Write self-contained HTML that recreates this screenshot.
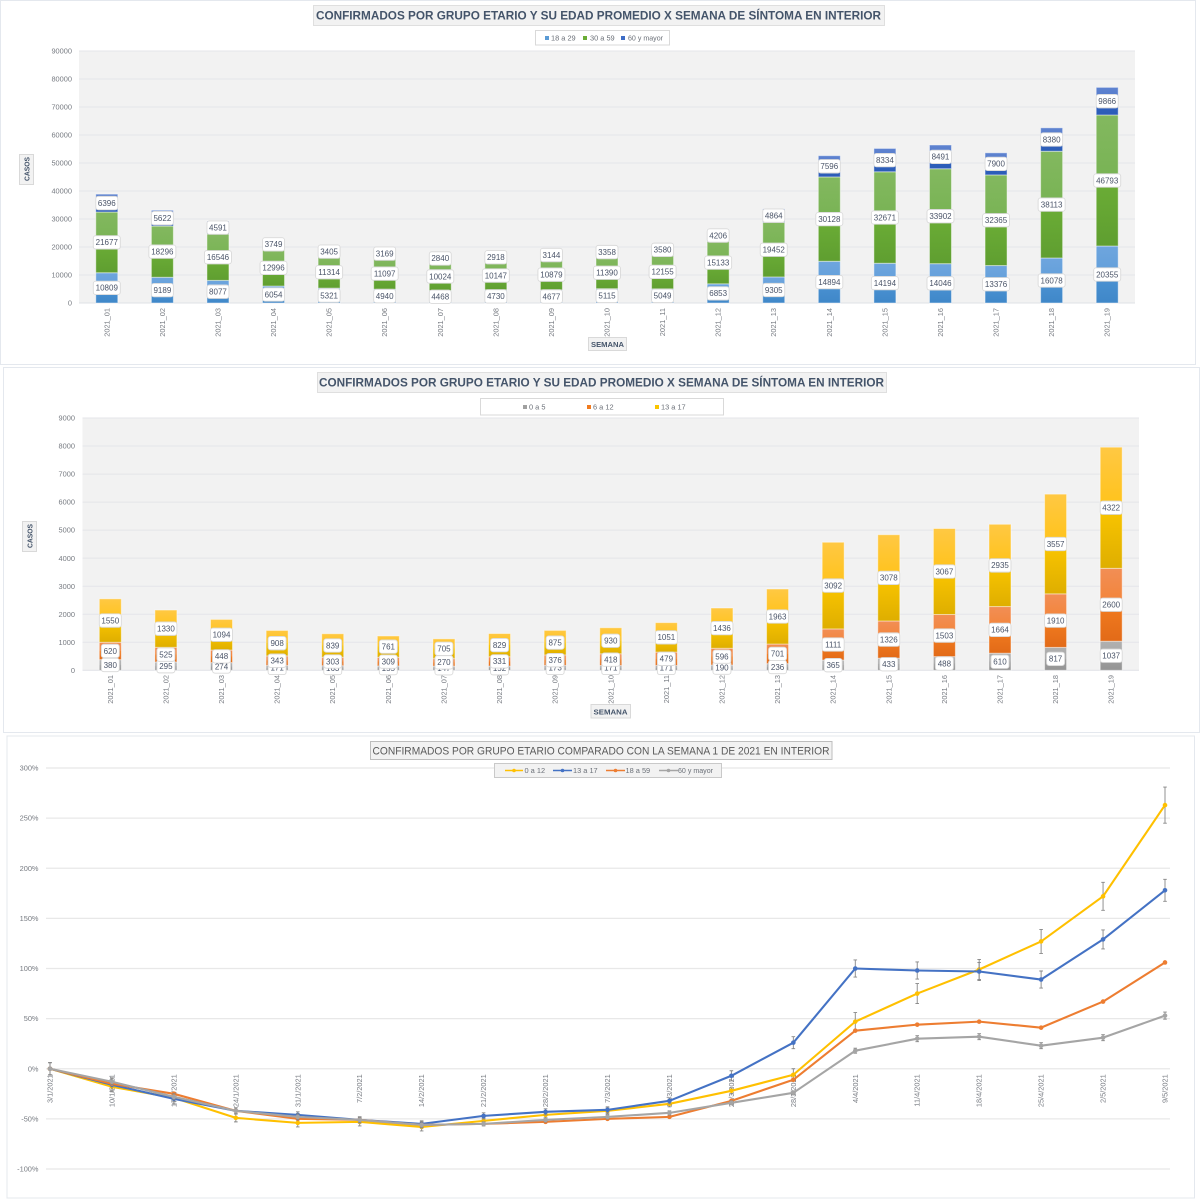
<!DOCTYPE html>
<html lang="es">
<head>
<meta charset="utf-8">
<title>Confirmados por grupo etario</title>
<style>
html,body{margin:0;padding:0;background:#fff;}
svg{display:block;font-family:"Liberation Sans",sans-serif;filter:blur(0.3px);}
.tick{font-size:7.4px;fill:#777b82;}
.legend-text{font-size:7.4px;fill:#6b7078;}
.label-text{font-size:8px;fill:#4a5468;text-anchor:middle;}
.title-bold{font-size:12px;font-weight:bold;fill:#44546a;}
.axis-title{font-size:7.6px;font-weight:bold;fill:#44546a;}
</style>
</head>
<body>
<svg id="root" width="1200" height="1199" viewBox="0 0 1200 1199" xmlns="http://www.w3.org/2000/svg">
  <defs>
    <linearGradient id="g-blue" x1="0" y1="0" x2="0" y2="1"><stop offset="0" stop-color="#6ea5de"/><stop offset=".5" stop-color="#629fda"/><stop offset=".5" stop-color="#4b92d3"/><stop offset="1" stop-color="#3f87c8"/></linearGradient>
    <linearGradient id="g-green" x1="0" y1="0" x2="0" y2="1"><stop offset="0" stop-color="#83b85f"/><stop offset=".5" stop-color="#78b354"/><stop offset=".5" stop-color="#6bad36"/><stop offset="1" stop-color="#5f9e30"/></linearGradient>
    <linearGradient id="g-navy" x1="0" y1="0" x2="0" y2="1"><stop offset="0" stop-color="#5f83d0"/><stop offset=".5" stop-color="#5279c9"/><stop offset=".5" stop-color="#2f62c2"/><stop offset="1" stop-color="#2c5cb6"/></linearGradient>
    <linearGradient id="g-gray" x1="0" y1="0" x2="0" y2="1"><stop offset="0" stop-color="#b0b0b0"/><stop offset=".5" stop-color="#a8a8a8"/><stop offset=".5" stop-color="#a0a0a0"/><stop offset="1" stop-color="#949494"/></linearGradient>
    <linearGradient id="g-orange" x1="0" y1="0" x2="0" y2="1"><stop offset="0" stop-color="#f28e55"/><stop offset=".5" stop-color="#f38438"/><stop offset=".5" stop-color="#f17b1f"/><stop offset="1" stop-color="#e26a18"/></linearGradient>
    <linearGradient id="g-gold" x1="0" y1="0" x2="0" y2="1"><stop offset="0" stop-color="#ffc843"/><stop offset=".5" stop-color="#ffc31a"/><stop offset=".5" stop-color="#fac500"/><stop offset="1" stop-color="#deae00"/></linearGradient>
  </defs>

  <rect x="0.5" y="0.5" width="1195" height="364" fill="#fff" stroke="#e4e8ee"/>
  <rect x="3.5" y="367.5" width="1196" height="365" fill="#fff" stroke="#e4e8ee"/>
  <rect x="7" y="736" width="1187.5" height="462" fill="#fff" stroke="#e4e8ee"/>

  <g>
    <rect x="313.5" y="5.5" width="571" height="20" fill="#f2f2f2" stroke="#dfdfdf"/>
    <text x="316" y="19.5" class="title-bold" textLength="565" lengthAdjust="spacingAndGlyphs">CONFIRMADOS POR GRUPO ETARIO Y SU EDAD PROMEDIO X SEMANA DE SÍNTOMA EN INTERIOR</text>
  </g>
  <g>
    <rect x="535.5" y="30.5" width="134" height="14.5" fill="#fff" stroke="#d9d9d9"/>
    <g><rect x="545" y="36" width="4" height="4" fill="#5b9bd5"/><text x="551" y="40.5" class="legend-text">18 a 29</text></g>
    <g><rect x="583" y="36" width="4" height="4" fill="#6bad36"/><text x="590" y="40.5" class="legend-text">30 a 59</text></g>
    <g><rect x="621" y="36" width="4" height="4" fill="#3d6cc6"/><text x="628" y="40.5" class="legend-text" textLength="35" lengthAdjust="spacingAndGlyphs">60 y mayor</text></g>
  </g>
  <g>
    <rect x="19.5" y="154.5" width="14" height="30" fill="#f2f2f2" stroke="#d9d9d9"/>
    <text transform="translate(29.5 181) rotate(-90)" class="axis-title" textLength="24" lengthAdjust="spacingAndGlyphs">CASOS</text>
  </g>
  <g>
    <rect x="588.5" y="337.5" width="38" height="13" fill="#f2f2f2" stroke="#d9d9d9"/>
    <text x="591" y="347" class="axis-title" textLength="33" lengthAdjust="spacingAndGlyphs">SEMANA</text>
  </g>
  <g id="chart1"></g>

  <g>
    <rect x="317.5" y="372.5" width="569" height="20" fill="#f2f2f2" stroke="#dfdfdf"/>
    <text x="319" y="386.5" class="title-bold" textLength="565" lengthAdjust="spacingAndGlyphs">CONFIRMADOS POR GRUPO ETARIO Y SU EDAD PROMEDIO X SEMANA DE SÍNTOMA EN INTERIOR</text>
  </g>
  <g>
    <rect x="480.5" y="398.5" width="243" height="16.5" fill="#fff" stroke="#d9d9d9"/>
    <g><rect x="523" y="405" width="4" height="4" fill="#a0a0a0"/><text x="529" y="409.5" class="legend-text">0 a 5</text></g>
    <g><rect x="587" y="405" width="4" height="4" fill="#f17b1f"/><text x="593" y="409.5" class="legend-text">6 a 12</text></g>
    <g><rect x="655" y="405" width="4" height="4" fill="#fac500"/><text x="661" y="409.5" class="legend-text">13 a 17</text></g>
  </g>
  <g>
    <rect x="22.5" y="521.5" width="14" height="30" fill="#f2f2f2" stroke="#d9d9d9"/>
    <text transform="translate(32.5 548) rotate(-90)" class="axis-title" textLength="24" lengthAdjust="spacingAndGlyphs">CASOS</text>
  </g>
  <g>
    <rect x="591" y="704.5" width="39.5" height="13.5" fill="#f2f2f2" stroke="#d9d9d9"/>
    <text x="593.5" y="714.5" class="axis-title" textLength="34" lengthAdjust="spacingAndGlyphs">SEMANA</text>
  </g>
  <g id="chart2"></g>

  <g id="chart3"></g>
  <g>
    <rect x="370.5" y="741.5" width="461.5" height="18" fill="#f2f2f2" stroke="#bdbdbd"/>
    <text x="372.5" y="754.5" font-size="11" fill="#595959" textLength="457" lengthAdjust="spacingAndGlyphs">CONFIRMADOS POR GRUPO ETARIO COMPARADO CON LA SEMANA 1 DE 2021 EN INTERIOR</text>
  </g>
  <g>
    <rect x="494.5" y="763.5" width="227" height="14" fill="#f2f2f2" stroke="#c9c9c9"/>
    <g><line x1="505" x2="523" y1="770.5" y2="770.5" stroke="#ffc000" stroke-width="1.6"/><circle cx="514" cy="770.5" r="1.8" fill="#ffc000"/><text x="524.5" y="773" class="legend-text">0 a 12</text></g>
    <g><line x1="553" x2="572" y1="770.5" y2="770.5" stroke="#4472c4" stroke-width="1.6"/><circle cx="562.5" cy="770.5" r="1.8" fill="#4472c4"/><text x="573" y="773" class="legend-text">13 a 17</text></g>
    <g><line x1="606" x2="625" y1="770.5" y2="770.5" stroke="#ed7d31" stroke-width="1.6"/><circle cx="615.5" cy="770.5" r="1.8" fill="#ed7d31"/><text x="625.5" y="773" class="legend-text">18 a 59</text></g>
    <g><line x1="659" x2="678" y1="770.5" y2="770.5" stroke="#a5a5a5" stroke-width="1.6"/><circle cx="668.5" cy="770.5" r="1.8" fill="#a5a5a5"/><text x="678" y="773" class="legend-text" textLength="35" lengthAdjust="spacingAndGlyphs">60 y mayor</text></g>
  </g>
</svg>
<script>
// ---- Chart data ----
const weeks = ['2021_01','2021_02','2021_03','2021_04','2021_05','2021_06','2021_07','2021_08','2021_09','2021_10','2021_11','2021_12','2021_13','2021_14','2021_15','2021_16','2021_17','2021_18','2021_19'];

const adults18to29 = [10809,9189,8077,6054,5321,4940,4468,4730,4677,5115,5049,6853,9305,14894,14194,14046,13376,16078,20355];
const adults30to59 = [21677,18296,16546,12996,11314,11097,10024,10147,10879,11390,12155,15133,19452,30128,32671,33902,32365,38113,46793];
const adults60plus = [6396,5622,4591,3749,3405,3169,2840,2918,3144,3358,3580,4206,4864,7596,8334,8491,7900,8380,9866];
const chart1Ticks = [0,10000,20000,30000,40000,50000,60000,70000,80000,90000];

const kids0to5 = [380,295,274,171,163,155,147,152,173,171,171,190,236,365,433,488,610,817,1037];
const kids6to12 = [620,525,448,343,303,309,270,331,376,418,479,596,701,1111,1326,1503,1664,1910,2600];
const kids13to17 = [1550,1330,1094,908,839,761,705,829,875,930,1051,1436,1963,3092,3078,3067,2935,3557,4322];
const chart2Ticks = [0,1000,2000,3000,4000,5000,6000,7000,8000,9000];

const dates = ['3/1/2021','10/1/2021','17/1/2021','24/1/2021','31/1/2021','7/2/2021','14/2/2021','21/2/2021','28/2/2021','7/3/2021','14/3/2021','21/3/2021','28/3/2021','4/4/2021','11/4/2021','18/4/2021','25/4/2021','2/5/2021','9/5/2021'];
const pct0to12 = [0,-18,-29,-49,-54,-53,-58,-52,-46,-42,-35,-22,-6,47,75,99,127,172,263];
const pct13to17 = [0,-16,-30,-42,-46,-51,-55,-47,-43,-41,-32,-7,26,100,98,97,89,129,178];
const pct18to59 = [0,-15,-25,-42,-50,-51,-56,-55,-53,-50,-48,-32,-11,38,44,47,41,67,106];
const pct60plus = [0,-13,-28,-42,-48,-51,-56,-55,-51,-48,-44,-34,-24,18,30,32,23,31,53];
const err0to12 = [6,4,4,4,4,4,4,3,3,3,3,3,6,9,10,10,12,14,18];
const err13to17 = [6,7,5,3,3,3,3,3,3,3,3,5,6,8.5,8.5,9,8.5,9.5,11];
const err18to59 = [0,0,0,0,0,0,0,0,0,0,0,0,0,0,0,0,0,0,0];
const err60plus = [6,3,3,3,3,3,3,2,2,2,2,2,2,2.5,3,3,3,3,3.5];
const chart3Ticks = [-100,-50,0,50,100,150,200,250,300];

// ---- Helpers ----
const NS = 'http://www.w3.org/2000/svg';
function make(parent, tag, attrs, txt) {
  const el = document.createElementNS(NS, tag);
  for (const k in attrs) el.setAttribute(k, attrs[k]);
  if (txt !== undefined) el.textContent = txt;
  parent.appendChild(el);
  return el;
}

function drawStacked(rootId, geo, ticks, cats, series) {
  const root = document.getElementById(rootId);
  const maxV = ticks[ticks.length - 1];
  const y = v => geo.bottom - (v / maxV) * (geo.bottom - geo.top);
  const x = i => geo.left + (i + 0.5) * (geo.right - geo.left) / cats.length;

  const bg = make(root, 'rect', {x: geo.left, y: geo.top, width: geo.right - geo.left, height: geo.bottom - geo.top, fill: '#f2f2f2'});
  
  

  ticks.forEach(t => {
    if (t > 0) {
      const gl = make(root, 'line', {x1: geo.left, x2: geo.right, y1: y(t), y2: y(t), stroke: '#e4e5e9', 'stroke-width': 1});
      
      
    }
    const tl = make(root, 'text', {x: geo.tickX, y: y(t) + 2.6, 'text-anchor': 'end', class: 'tick'}, String(t));
    
    
  });

  const axis = make(root, 'line', {x1: geo.left, x2: geo.right, y1: geo.bottom, y2: geo.bottom, stroke: '#dfe1e6', 'stroke-width': 1});
  
  

  cats.forEach((c, i) => {
    const px = x(i) + 2.5;
    const tx = make(root, 'text', {transform: 'translate(' + px + ' ' + geo.labelTop + ') rotate(-90)', 'text-anchor': 'end', class: 'tick'}, c);
    
    
  });

  const base = cats.map(() => 0);
  const labels = [];
  series.forEach(s => {
    s.values.forEach((v, i) => {
      const y0 = y(base[i]);
      const y1 = y(base[i] + v);
      const bar = make(root, 'rect', {x: x(i) - geo.barW / 2, y: y1, width: geo.barW, height: y0 - y1, fill: 'url(#' + s.grad + ')', stroke: '#ffffff', 'stroke-opacity': 0.45, 'stroke-width': 1});
      
      
      labels.push({v: v, cx: x(i), cy: (y0 + y1) / 2, name: s.name});
      base[i] += v;
    });
  });

  labels.forEach(l => {
    const digits = String(l.v).length;
    const w = digits >= 5 ? 27 : digits === 4 ? 22 : 18;
    const box = make(root, 'rect', {x: l.cx - w / 2, y: l.cy - 6.7, width: w, height: 13.4, rx: 2.5, ry: 2.5, fill: '#ffffff', stroke: '#d9d9d9', 'stroke-width': 0.9});
    
    
    const t = make(root, 'text', {x: l.cx, y: l.cy + 2.8, class: 'label-text'}, String(l.v));
    
    
  });
}

drawStacked('chart1', {left: 79, right: 1135, top: 51, bottom: 303, tickX: 72, labelTop: 308, barW: 22}, chart1Ticks, weeks, [
  {name: '18-a-29', values: adults18to29, grad: 'g-blue'},
  {name: '30-a-59', values: adults30to59, grad: 'g-green'},
  {name: '60-y-mayor', values: adults60plus, grad: 'g-navy'}
]);

drawStacked('chart2', {left: 82.5, right: 1139, top: 418, bottom: 670.3, tickX: 75, labelTop: 675, barW: 22}, chart2Ticks, weeks, [
  {name: '0-a-5', values: kids0to5, grad: 'g-gray'},
  {name: '6-a-12', values: kids6to12, grad: 'g-orange'},
  {name: '13-a-17', values: kids13to17, grad: 'g-gold'}
]);

// ---- Line chart ----
(function () {
  const root = document.getElementById('chart3');
  const geo = {left: 46, right: 1170, firstX: 50, lastX: 1165, zeroY: 1068.4, topY: 768, bottomY: 1169, tickX: 38.5};
  const maxT = chart3Ticks[chart3Ticks.length - 1];
  const minT = chart3Ticks[0];
  const y = v => geo.bottomY - (v - minT) / (maxT - minT) * (geo.bottomY - geo.topY);
  const x = i => geo.firstX + i * (geo.lastX - geo.firstX) / (dates.length - 1);

  chart3Ticks.forEach(t => {
    const gl = make(root, 'line', {x1: geo.left, x2: geo.right, y1: y(t), y2: y(t), stroke: '#e8e8e8', 'stroke-width': 1.2});
    
    
    const tl = make(root, 'text', {x: geo.tickX, y: y(t) + 2.6, 'text-anchor': 'end', class: 'tick'}, t + '%');
    
    
  });

  dates.forEach((d, i) => {
    const px = x(i) + 2.5;
    const tx = make(root, 'text', {transform: 'translate(' + px + ' ' + (y(0) + 5.5) + ') rotate(-90)', 'text-anchor': 'end', class: 'tick'}, d);
    
    
  });

  const series = [
    {name: '0-a-12', values: pct0to12, err: err0to12, color: '#ffc000'},
    {name: '13-a-17', values: pct13to17, err: err13to17, color: '#4472c4'},
    {name: '18-a-59', values: pct18to59, err: err18to59, color: '#ed7d31'},
    {name: '60-y-mayor', values: pct60plus, err: err60plus, color: '#a5a5a5'}
  ];

  series.forEach(s => {
    s.err.forEach((e, i) => {
      if (!e) return;
      const hi = s.values[i] + e;
      const lo = s.values[i] - e;
      const px = x(i);
      const d = 'M' + px + ' ' + y(hi) + 'V' + y(lo) + 'M' + (px - 1.8) + ' ' + y(hi) + 'H' + (px + 1.8) + 'M' + (px - 1.8) + ' ' + y(lo) + 'H' + (px + 1.8);
      const eb = make(root, 'path', {d: d, stroke: '#858585', 'stroke-width': 0.9, fill: 'none'});
      
      
    });
    const pts = s.values.map((v, i) => x(i) + ',' + y(v)).join(' ');
    const line = make(root, 'polyline', {points: pts, fill: 'none', stroke: s.color, 'stroke-width': 2.1, 'stroke-linejoin': 'round'});
    
    
    s.values.forEach((v, i) => {
      const m = make(root, 'circle', {cx: x(i), cy: y(v), r: 2.3, fill: s.color});
      
      
    });
  });
})();
</script>
</body>
</html>
